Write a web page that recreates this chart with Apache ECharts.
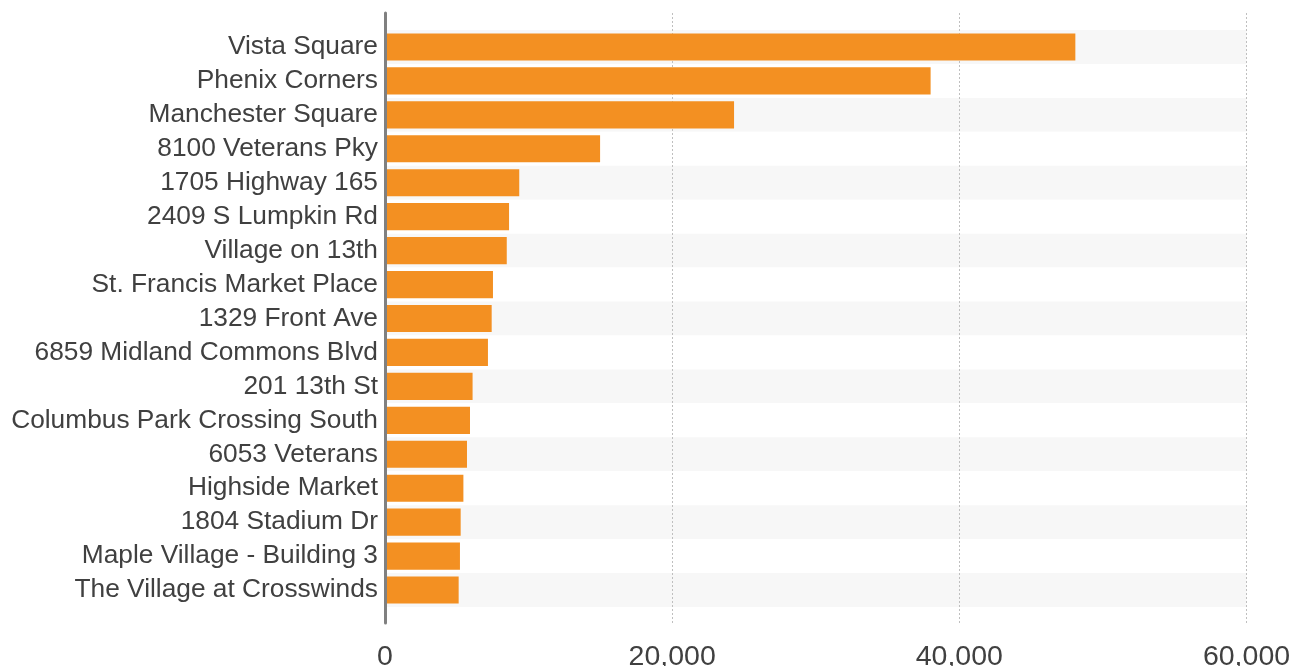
<!DOCTYPE html>
<html>
<head>
<meta charset="utf-8">
<script src="https://cdn.jsdelivr.net/npm/echarts@6/dist/echarts.min.js"></script>
<style>
html,body{margin:0;padding:0;background:#fff;}
#chart{width:1292px;height:666px;}
</style>
</head>
<body>
<div id="chart"></div>
<script>
const categories = [
  "Vista Square", "Phenix Corners", "Manchester Square", "8100 Veterans Pky",
  "1705 Highway 165", "2409 S Lumpkin Rd", "Village on 13th", "St. Francis Market Place",
  "1329 Front Ave", "6859 Midland Commons Blvd", "201 13th St", "Columbus Park Crossing South",
  "6053 Veterans", "Highside Market", "1804 Stadium Dr", "Maple Village - Building 3",
  "The Village at Crosswinds"
];
const values = [
  48080, 38000, 24310, 14980, 9350, 8640, 8480, 7520, 7430, 7170,
  6100, 5920, 5710, 5460, 5270, 5220, 5130
];
const xTicks = [0, 20000, 40000, 60000];

const chart = echarts.init(document.getElementById('chart'), null, {renderer: 'canvas'});
const fmt = v => v.toLocaleString('en-US');
chart.setOption({
  animation: false,
  backgroundColor: '#ffffff',
  textStyle: {fontFamily: 'Liberation Sans, Arial, sans-serif'},
  grid: [
    {left: 385, right: 45.5, top: 13, bottom: 43, containLabel: false, outerBoundsMode: 'none'},
    {left: 385, right: 45.5, top: 30, bottom: 59, containLabel: false, outerBoundsMode: 'none'}
  ],
  xAxis: [
    {
      gridIndex: 0, type: 'value', min: xTicks[0], max: xTicks[xTicks.length - 1], interval: 20000,
      z: 1,
      axisLine: {show: false}, axisTick: {show: false},
      axisLabel: {fontSize: 28.5, color: '#404040', margin: 20, formatter: fmt},
      splitLine: {show: true, lineStyle: {color: '#bfbfbf', type: [2, 2], width: 1}}
    },
    {
      gridIndex: 1, type: 'value', min: xTicks[0], max: xTicks[xTicks.length - 1], interval: 20000,
      show: false, splitLine: {show: false}
    }
  ],
  yAxis: [
    {
      gridIndex: 0, type: 'category', data: categories, inverse: true, z: 5,
      axisLine: {show: true, lineStyle: {color: '#808080', width: 3}},
      axisTick: {show: false}, axisLabel: {show: false}, splitLine: {show: false}
    },
    {
      gridIndex: 1, type: 'category', data: categories, inverse: true, z: 0,
      axisLine: {show: false}, axisTick: {show: false},
      axisLabel: {fontSize: 26.3, color: '#404040', margin: 7},
      splitLine: {show: false},
      splitArea: {show: true, areaStyle: {color: ['#f7f7f7', '#ffffff']}}
    }
  ],
  series: [{
    type: 'bar', xAxisIndex: 1, yAxisIndex: 1, data: values, z: 2,
    barCategoryGap: '20%',
    itemStyle: {color: '#f39022'}
  }]
});
</script>
</body>
</html>
